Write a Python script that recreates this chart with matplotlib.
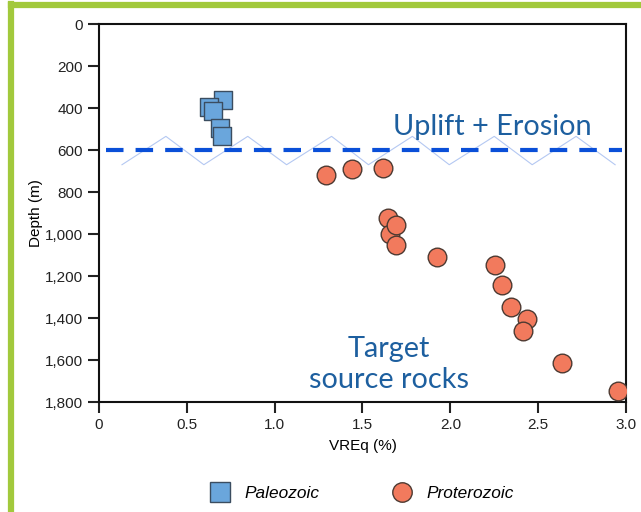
import numpy as np
import matplotlib.pyplot as plt
from matplotlib.lines import Line2D

# VREq (%) vs depth (m)
paleo_vre = [0.705, 0.625, 0.648, 0.688, 0.700]
paleo_depth = [362, 395, 414, 495, 533]

protero_vre = [1.295, 1.438, 1.619, 1.648, 1.659, 1.688, 1.688, 1.926,
               2.256, 2.295, 2.347, 2.438, 2.415, 2.636, 2.955]
protero_depth = [719, 690, 686, 924, 1000, 957, 1052, 1110,
                 1148, 1243, 1348, 1405, 1462, 1614, 1748]

uplift_depth = 600
# decorative zig-zag around the erosion surface
zig_vre = [0.131, 0.381, 0.597, 0.847, 1.068, 1.324, 1.534, 1.784,
           1.994, 2.250, 2.466, 2.716, 2.938]
zig_depth = [670, 535, 670, 535, 670, 535, 670, 535, 670, 535, 670, 535, 670]

yticks = [0, 200, 400, 600, 800, 1000, 1200, 1400, 1600, 1800]
xticks = [0, 0.5, 1.0, 1.5, 2.0, 2.5, 3.0]

plt.rcParams['font.family'] = ['Liberation Sans', 'DejaVu Sans']

fig = plt.figure(figsize=(6.41, 5.12), dpi=100)
ax = fig.add_axes([0.1544, 0.2148, 0.8222, 0.7383])

sq_c, sq_e = '#6aa6dc', '#3b4d60'
ci_c, ci_e = '#f27a5d', '#4d3a32'
txt_c = '#1d5f9f'

ax.plot(zig_vre, zig_depth, color='#b4c8f2', lw=0.8, zorder=1)
ax.hlines(uplift_depth, 0.04, 2.98, colors='#0a4fd8', lw=3,
          linestyles=(0, (4.2, 2.9)), zorder=2)

ax.scatter(paleo_vre, paleo_depth, marker='s', s=180, c=sq_c,
           edgecolors=sq_e, linewidths=1, zorder=3)
ax.scatter(protero_vre, protero_depth, marker='o', s=180, c=ci_c,
           edgecolors=ci_e, linewidths=1, zorder=3)

ax.text(2.24, 490, 'Uplift + Erosion', color=txt_c, fontsize=20.8,
        family=['Lato', 'DejaVu Sans'], ha='center', va='center')
ax.text(1.65, 1620, 'Target\nsource rocks', color=txt_c, fontsize=20.8,
        family=['Lato', 'DejaVu Sans'], ha='center', va='center',
        linespacing=1.25)

ax.set_xlim(0, 3.0)
ax.set_ylim(1800, 0)
ax.set_xticks(xticks)
ax.set_xticklabels(['0', '0.5', '1.0', '1.5', '2.0', '2.5', '3.0'])
ax.set_yticks(yticks)
ax.set_yticklabels(['{:,}'.format(v) for v in yticks])
ax.tick_params(direction='out', length=8, width=1.5, labelsize=11, colors='#222222')
for sp in ax.spines.values():
    sp.set_linewidth(1.5)
    sp.set_color('#111111')
ax.set_xlabel('VREq (%)', fontsize=11, labelpad=5)
ax.set_ylabel('Depth (m)', fontsize=11, labelpad=1)

handles = [Line2D([], [], marker='s', ls='', ms=14, mfc=sq_c, mec=sq_e, mew=1),
           Line2D([], [], marker='o', ls='', ms=14, mfc=ci_c, mec=ci_e, mew=1)]
fig.legend(handles, ['Paleozoic', 'Proterozoic'], loc='center',
           bbox_to_anchor=(0.563, 0.037), ncol=2, frameon=False,
           prop={'style': 'italic', 'size': 12.4}, columnspacing=4.1,
           handlelength=1.4, handletextpad=0.7)

# green frame
fig.add_artist(Line2D([0.0172, 1.0], [0.9893, 0.9893], color='#a2c93c', lw=4.5,
                      transform=fig.transFigure))
fig.add_artist(Line2D([0.0172, 0.0172], [0, 0.993], color='#a2c93c', lw=4.5,
                      transform=fig.transFigure))

fig.savefig('out.png', dpi=100)
